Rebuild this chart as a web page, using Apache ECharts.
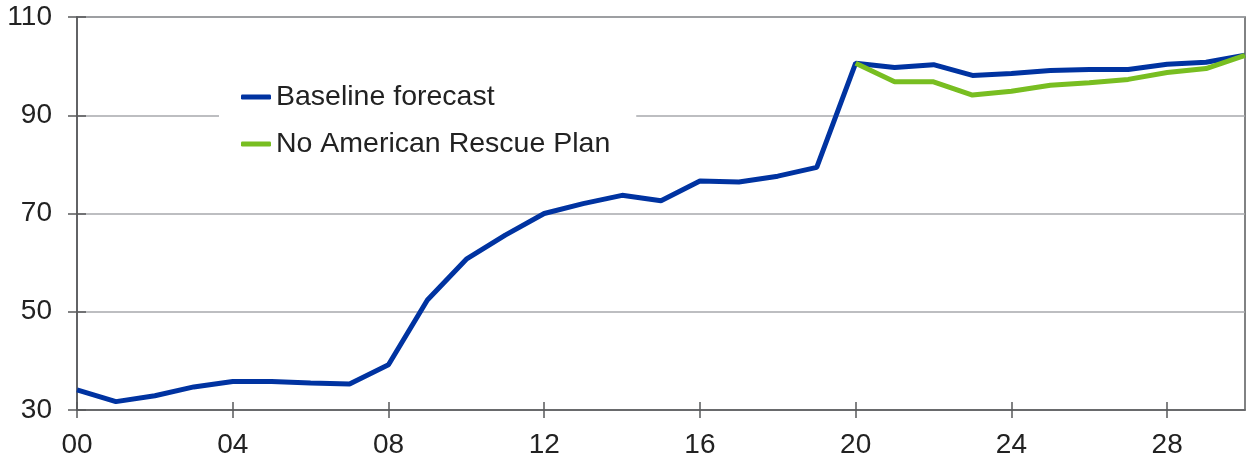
<!DOCTYPE html>
<html>
<head>
<meta charset="utf-8">
<script src="https://cdn.jsdelivr.net/npm/echarts@6/dist/echarts.min.js"></script>
<style>
html,body{margin:0;padding:0;background:#fff;}
#c{width:1247px;height:459px;}
</style>
</head>
<body>
<div id="c"></div>
<script>
const years = ['00','01','02','03','04','05','06','07','08','09','10','11','12','13','14','15','16','17','18','19','20','21','22','23','24','25','26','27','28','29','30'];
const baseline = [34.1,31.7,32.9,34.7,35.8,35.8,35.5,35.3,39.2,52.4,60.7,65.6,70.0,72.0,73.7,72.6,76.6,76.4,77.6,79.4,100.6,99.7,100.3,98.1,98.5,99.1,99.3,99.3,100.4,100.8,102.2];
const noARP = [null,null,null,null,null,null,null,null,null,null,null,null,null,null,null,null,null,null,null,null,100.6,96.8,96.8,94.1,94.9,96.1,96.6,97.3,98.7,99.5,102.2];
const yTicks = {min:30, max:110, interval:20};
const seriesNames = ['Baseline forecast','No American Rescue Plan'];

const axisColor = '#58595b';
const font = 'Liberation Sans, Arial, sans-serif';
const every4 = (i) => i % 4 === 0;

const chart = echarts.init(document.getElementById('c'));
chart.setOption({
  animation:false,
  backgroundColor:'#fff',
  grid:{left:77,right:2,top:17,bottom:49,show:true,borderColor:axisColor,borderWidth:1.5,backgroundColor:'transparent'},
  legend:{
    left:219, top:72, orient:'vertical',
    backgroundColor:'#fff',
    padding:[10,26,10,22],
    itemGap:17,
    itemWidth:30, itemHeight:5,
    icon:'roundRect',
    textStyle:{fontFamily:font,fontSize:28.5,color:'#222',lineHeight:30},
    data:seriesNames
  },
  xAxis:[{
    type:'category', data:years, boundaryGap:false, position:'bottom',
    axisLine:{show:true,lineStyle:{color:axisColor,width:1.5}},
    axisTick:{show:true,inside:false,length:8,interval:every4,lineStyle:{color:axisColor,width:1.5}},
    axisLabel:{interval:every4,margin:21,fontFamily:font,fontSize:28,color:'#222'},
    splitLine:{show:false}
  },{
    type:'category', data:years, boundaryGap:false, position:'bottom',
    axisLine:{show:false},
    axisTick:{show:true,inside:true,length:8,interval:every4,lineStyle:{color:axisColor,width:1.5}},
    axisLabel:{show:false}, splitLine:{show:false}
  }],
  yAxis:[{
    type:'value', min:yTicks.min, max:yTicks.max, interval:yTicks.interval, position:'left',
    axisLine:{show:true,lineStyle:{color:axisColor,width:1.5}},
    axisTick:{show:true,inside:false,length:9,lineStyle:{color:axisColor,width:1.5}},
    axisLabel:{margin:25,fontFamily:font,fontSize:28,color:'#222'},
    splitLine:{show:true,lineStyle:{color:'#a7a9ac',width:1.5}}
  },{
    type:'value', min:yTicks.min, max:yTicks.max, interval:yTicks.interval, position:'left',
    axisLine:{show:false},
    axisTick:{show:true,inside:true,length:9,lineStyle:{color:axisColor,width:1.5}},
    axisLabel:{show:false}, splitLine:{show:false}
  }],
  series:[{
    name:seriesNames[0], type:'line', data:baseline, symbol:'none',
    itemStyle:{color:'#0033a1'},
    lineStyle:{color:'#0033a1',width:5}, z:3
  },{
    name:seriesNames[1], type:'line', data:noARP, symbol:'none',
    itemStyle:{color:'#78be21'},
    lineStyle:{color:'#78be21',width:5}, z:4
  }]
});
</script>
</body>
</html>
